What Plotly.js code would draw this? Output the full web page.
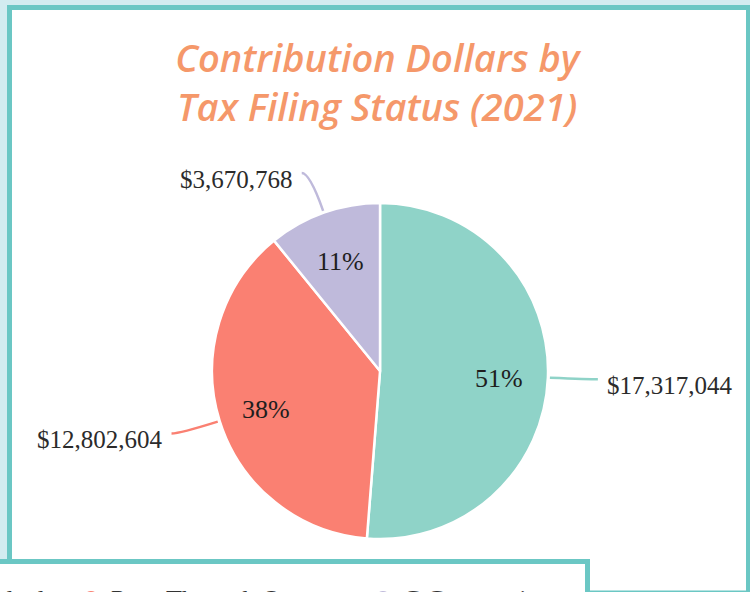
<!DOCTYPE html>
<html><head><meta charset="utf-8">
<script src="https://cdn.plot.ly/plotly-3.0.1.min.js"></script>
<style>html,body{margin:0;padding:0;background:#d3ecf0;overflow:hidden}</style>
</head><body><div id="chart" style="width:750px;height:592px"></div>
<script>
// ---- data ----
const categories = ['Individual', 'Pass-Through Owner', 'C Corporation'];
const amounts = [17317044, 12802604, 3670768];
const colors = ['#8fd3c8', '#fa8072', '#bfbadb'];
const titleText = 'Contribution Dollars by<br>Tax Filing Status (2021)';

// ---- geometry ----
const W = 750, H = 592;
const dom = {x: [0.2827, 0.7307], y: [0.0895, 0.6571]};
const cx = W * (dom.x[0] + dom.x[1]) / 2;
const cy = H * (1 - (dom.y[0] + dom.y[1]) / 2);
const R = Math.min(W * (dom.x[1] - dom.x[0]), H * (dom.y[1] - dom.y[0])) / 2;
const px = x => x / W, py = y => 1 - y / H;
const teal = '#6bc7c4';

const shapes = [
  {type: 'rect', xref: 'paper', yref: 'paper', layer: 'below',
   x0: px(9.5), x1: px(748.5), y0: py(7.5), y1: py(593),
   fillcolor: '#ffffff', line: {color: teal, width: 5}},
  {type: 'rect', xref: 'paper', yref: 'paper', layer: 'below',
   x0: px(-10), x1: px(587.5), y0: py(561.5), y1: py(640),
   fillcolor: '#ffffff', line: {color: teal, width: 5}}
];
const annotations = [];

const total = amounts.reduce((a, b) => a + b, 0);
let cum = 0;
amounts.forEach((v, i) => {
  const mid = (cum + v / 2) / total; cum += v;
  const ang = mid * 2 * Math.PI;
  const dx = Math.sin(ang), dy = -Math.cos(ang);
  const L = 42;
  const p0 = [cx + dx * (R + 2), cy + dy * (R + 2)];
  const p1 = [cx + dx * (R + L), cy + dy * (R + L)];
  const side = dx >= 0 ? 1 : -1;
  const p2 = [p1[0] + side * 8, p1[1]];
  shapes.push({type: 'path', xref: 'paper', yref: 'paper', layer: 'above',
    path: `M ${px(p0[0])},${py(p0[1])} Q ${px(p1[0])},${py(p1[1])} ${px(p2[0])},${py(p2[1])}`,
    line: {color: colors[i], width: 2.5}});
  annotations.push({xref: 'paper', yref: 'paper', showarrow: false,
    x: px(p2[0] + side * 7), y: py(p2[1] + 6),
    xanchor: side > 0 ? 'left' : 'right', yanchor: 'middle',
    text: '$' + v.toLocaleString('en-US'),
    font: {family: 'Liberation Serif', size: 25, color: '#2b2b2b'}});
  const rIn = R * 0.71;
  annotations.push({xref: 'paper', yref: 'paper', showarrow: false,
    x: px(cx + dx * rIn), y: py(cy + dy * rIn + 3),
    xanchor: 'center', yanchor: 'middle',
    text: Math.round(v / total * 100) + '%',
    font: {family: 'Liberation Serif', size: 26, color: '#1e1e1e'}});
});

const legendNames = ['legend', 'legend2', 'legend3'];
const traces = [{
  type: 'pie', labels: categories, values: amounts, sort: false,
  direction: 'clockwise', rotation: 0, domain: dom,
  marker: {colors: colors, line: {color: '#ffffff', width: 2.5}},
  textinfo: 'none', hoverinfo: 'none', showlegend: false
}].concat(categories.map((c, i) => ({
  type: 'scatter', mode: 'markers', x: [null], y: [null], name: c,
  legend: legendNames[i],
  marker: {color: colors[i], size: 14, symbol: 'circle'},
  hoverinfo: 'skip', showlegend: true
})));

const legendBase = {orientation: 'h', xanchor: 'left', y: py(598), yanchor: 'middle',
  font: {family: 'Liberation Serif', size: 26, color: '#333333'}, bgcolor: 'rgba(0,0,0,0)'};

const layout = {
  width: W, height: H, margin: {l: 0, r: 0, t: 0, b: 0, autoexpand: false},
  paper_bgcolor: '#d3ecf0', plot_bgcolor: 'rgba(0,0,0,0)',
  xaxis: {visible: false}, yaxis: {visible: false},
  title: {text: titleText, x: 0.503, xanchor: 'center', y: py(72), yanchor: 'top', yref: 'container',
    font: {family: 'Open Sans', size: 38, weight: 600, color: '#f5986a', style: 'italic'}},
  showlegend: true,
  legend: Object.assign({x: px(-102)}, legendBase),
  legend2: Object.assign({x: px(71)}, legendBase),
  legend3: Object.assign({x: px(363)}, legendBase),
  shapes: shapes, annotations: annotations
};

Plotly.newPlot('chart', traces, layout, {displayModeBar: false, staticPlot: true});
</script>
</body></html>
